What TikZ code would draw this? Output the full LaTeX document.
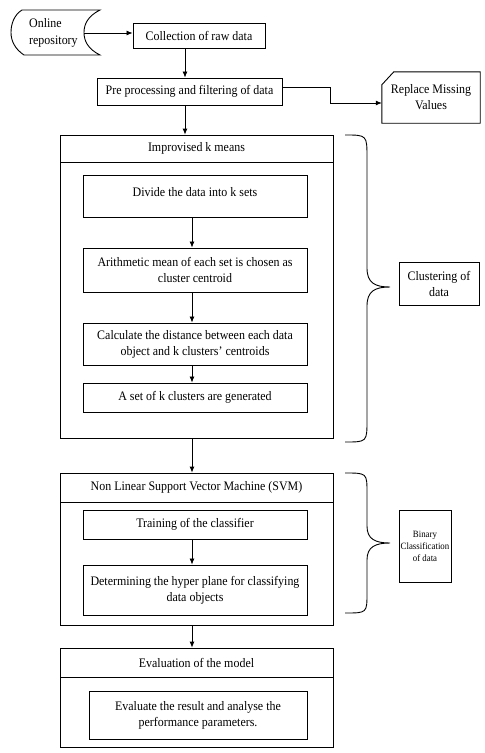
\documentclass[tikz,border=0pt]{standalone}
\usepackage{fontspec}
\setmainfont[FakeStretch=0.92]{Liberation Serif}
\usetikzlibrary{arrows.meta}
\begin{document}
\begin{tikzpicture}[x=1pt,y=-1pt,
  box/.style={draw, line width=0.9pt, inner sep=1pt, align=center, font=\fontsize{13}{16}\selectfont},
  outer/.style={draw, line width=0.8pt, inner sep=0pt},
  head/.style={draw, line width=0.8pt, inner sep=0pt, minimum width=273pt, font=\fontsize{13}{16}\selectfont},
  txt/.style={inner sep=0pt, align=center, font=\fontsize{13}{16}\selectfont},
  arr/.style={-{Latex[length=6pt,width=5pt]}, line width=0.8pt},
  brace/.style={line width=0.9pt}]
\useasboundingbox[fill=white] (0,0) rectangle (485,753);

% Online repository (stored data shape)
\draw[line width=0.9pt] (22,10) -- (100,10) .. controls (88,16) and (84,24) .. (84,32.5)
  .. controls (84,41) and (88,49) .. (100,55) -- (24,55)
  .. controls (15,49) and (11,41) .. (11,32.5) .. controls (11,24) and (14,15) .. (22,10) -- cycle;
\node[inner sep=0pt, align=left, anchor=west, font=\fontsize{13}{17}\selectfont] (repo) at (29,32.5) {Online\\repository};
\coordinate (repoR) at (84,33);

\node[box, minimum width=132pt, minimum height=25pt] (coll) at (199,35.5) {Collection of raw data};
\node[box, minimum width=185pt, minimum height=27pt] (pre) at (189.5,91.5) {Pre processing and filtering of data};

% Replace Missing Values (card)
\node[txt, minimum width=98pt, minimum height=51pt] (rmv) at (431,97.5) {Replace Missing\\Values};
\draw[line width=0.9pt] ([yshift=-13pt]rmv.north west) -- ([xshift=12pt]rmv.north west) -- (rmv.north east)
  -- (rmv.south east) -- (rmv.south west) -- cycle;

% Improvised k means
\node[outer, minimum width=273pt, minimum height=303pt] (km) at (196.5,286.5) {};
\node[head, minimum height=27pt] (kmh) at (196.5,148.5) {Improvised k means};
\node[box, minimum width=224pt, minimum height=42pt] (div) at (195,196) {};
\node[txt] (divt) at ([yshift=4pt]div.center) {Divide the data into k sets};
\node[box, minimum width=224pt, minimum height=44pt] (ari) at (195,270) {Arithmetic mean of each set is chosen as\\cluster centroid};
\node[box, minimum width=224pt, minimum height=42pt] (calc) at (195,344) {Calculate the distance between each data\\object and k clusters' centroids};
\node[box, minimum width=224pt, minimum height=29pt] (aset) at (195,397.5) {A set of k clusters are generated};

% SVM
\node[outer, minimum width=273pt, minimum height=152pt] (svm) at (196.5,549) {};
\node[head, minimum height=29pt] (svmh) at (196.5,487.5) {Non Linear Support Vector Machine (SVM)};
\node[box, minimum width=224pt, minimum height=29pt] (train) at (195,524.5) {Training of the classifier};
\node[box, minimum width=224pt, minimum height=50pt] (det) at (195,590) {Determining the hyper plane for classifying\\data objects};

% Evaluation
\node[outer, minimum width=273pt, minimum height=99pt] (ev) at (196.5,697.5) {};
\node[head, minimum height=29pt] (evh) at (196.5,662.5) {Evaluation of the model};
\node[box, minimum width=218pt, minimum height=48pt] (evr) at (198,715) {Evaluate the result and analyse the\\performance parameters.};

% Side boxes
\node[box, minimum width=80pt, minimum height=43pt] (clus) at (439,283.5) {Clustering of\\data};
\node[box, minimum width=52pt, minimum height=72pt, font=\fontsize{9.6}{12}\selectfont] (bin) at (425,546) {Binary\\Classification\\of data};

% Braces
\draw[brace] (345,135) .. controls (367,135) .. (367,158) -- (367,268)
  .. controls (367,283) and (375,287) .. (390,287)
  .. controls (375,287) and (367,291) .. (367,306) -- (367,420) .. controls (367,442) .. (345,442);
\draw[brace] (345,473) .. controls (367,473) .. (367,493) -- (367,526)
  .. controls (367,539) and (375,543) .. (390,543)
  .. controls (375,543) and (367,547) .. (367,560) -- (367,593) .. controls (367,613) .. (345,613);

% Connectors
\coordinate (c1) at (185,0);
\coordinate (c2) at (192,0);
\draw[arr] (repoR) -- (repoR -| coll.west);
\draw[arr] (c1 |- coll.south) -- (c1 |- pre.north);
\draw[arr] (c1 |- pre.south) -- (c1 |- km.north);
\draw[arr] ([yshift=4pt]pre.east) -- ++(48,0) |- ([yshift=-5.5pt]rmv.west);
\draw[arr] (c2 |- div.south) -- (c2 |- ari.north);
\draw[arr] (c2 |- ari.south) -- (c2 |- calc.north);
\draw[arr] (c2 |- calc.south) -- (c2 |- aset.north);
\draw[arr] (c2 |- km.south) -- (c2 |- svm.north);
\draw[arr] (c2 |- train.south) -- (c2 |- det.north);
\draw[arr] (c2 |- svm.south) -- (c2 |- ev.north);
\end{tikzpicture}
\end{document}
